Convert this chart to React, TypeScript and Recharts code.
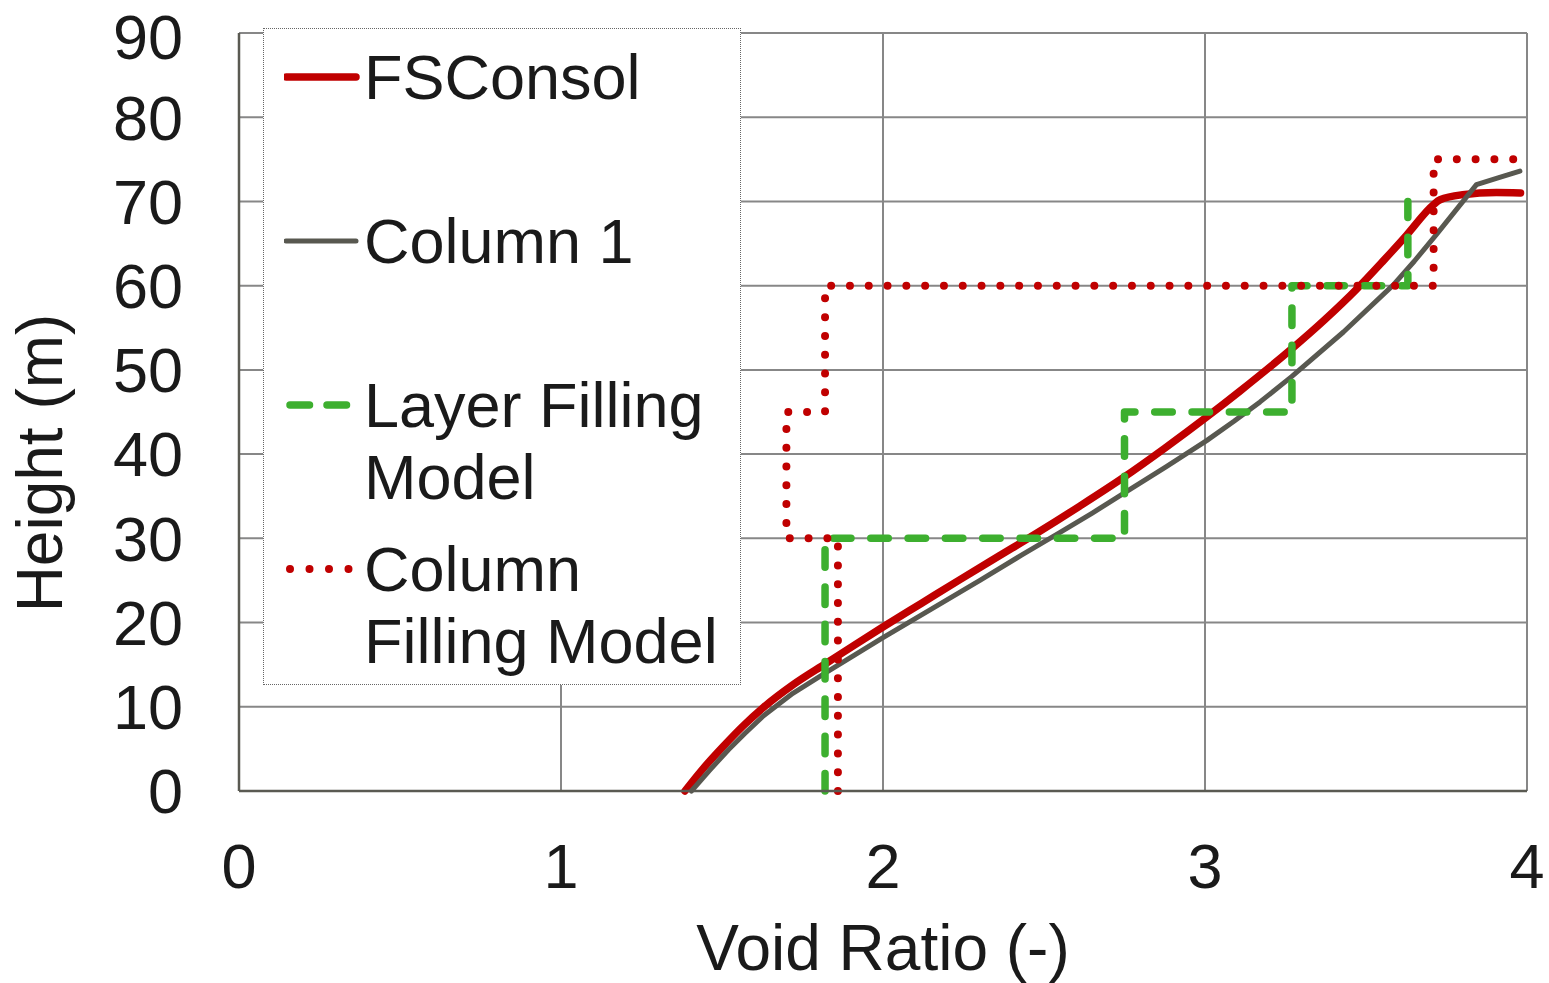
import React from 'react'
import {
	CartesianGrid,
	Legend,
	Line,
	LineChart,
	XAxis,
	YAxis,
} from 'recharts'

// values (void ratio e, height h in m)
const fsconsolE = [
	1.385, 1.44, 1.504, 1.565, 1.628, 1.72, 1.825, 1.91, 2.001, 2.12, 2.239, 2.36,
	2.477, 2.61, 2.746, 2.875, 3.005, 3.109, 3.269, 3.37, 3.471, 3.55, 3.626,
	3.709, 3.73, 3.8, 3.905, 3.98,
]
const fsconsolH = [
	0, 2.6, 5.3, 7.7, 9.9, 12.6, 15.2, 17.3, 19.5, 22.3, 25.1, 27.9, 30.6, 33.8,
	37.2, 40.7, 44.4, 47.5, 52.5, 55.9, 59.6, 62.8, 66.0, 69.6, 70.2, 70.8, 71.05,
	71.0,
]

const column1E = [
	1.405, 1.46, 1.52, 1.57, 1.628, 1.72, 1.825, 1.91, 2.0, 2.15, 2.301, 2.43,
	2.55, 2.65, 2.746, 2.88, 3.005, 3.09, 3.171, 3.269, 3.43, 3.585, 3.65, 3.719,
	3.78, 3.843, 3.91, 3.978,
]
const column1H = [
	0, 2.4, 4.9, 6.8, 8.9, 11.6, 14.1, 16.1, 18.2, 21.6, 25.0, 28.0, 30.7, 33.0,
	35.3, 38.5, 41.6, 43.9, 46.2, 49.2, 54.5, 60.1, 62.9, 66.1, 69.0, 72.0, 72.8,
	73.6,
]

const layerE = [1.82, 1.82, 2.75, 2.75, 3.27, 3.27, 3.63, 3.63]
const layerH = [0, 30, 30, 45, 45, 60, 60, 70]

const columnFillE = [1.86, 1.86, 1.7, 1.7, 1.82, 1.82, 3.71, 3.71, 4.0]
const columnFillH = [0, 30, 30, 45, 45, 60, 60, 75, 75]

const xTicks = [0, 1, 2, 3, 4]
const yTicks = [0, 10, 20, 30, 40, 50, 60, 70, 80, 90]

const toPoints = (e: number[], h: number[]) => e.map((v, i) => ({ e: v, h: h[i] }))

const FONT = '"Liberation Sans", Arial, sans-serif'
const TEXT = '#1a1a1a'

const series = [
	{
		name: 'FSConsol',
		data: toPoints(fsconsolE, fsconsolH),
		color: '#c00000',
		width: 7.5,
		dash: undefined as string | undefined,
		legendDash: undefined as string | undefined,
		type: 'monotone' as const,
	},
	{
		name: 'Column 1',
		data: toPoints(column1E, column1H),
		color: '#585850',
		width: 5,
		dash: undefined,
		legendDash: undefined,
		type: 'linear' as const,
	},
	{
		name: 'Layer Filling Model',
		data: toPoints(layerE, layerH),
		color: '#3daf2f',
		width: 7.5,
		dash: '17.5 19.8',
		legendDash: '19.5 17.5',
		type: 'linear' as const,
	},
	{
		name: 'Column Filling Model',
		data: toPoints(columnFillE, columnFillH),
		color: '#c00000',
		width: 8,
		dash: '0 18.8',
		legendDash: '0 19.5',
		type: 'linear' as const,
	},
]

function LegendBox() {
	return (
		<div
			style={{
				width: 476,
				height: 655,
				border: '1px dotted #666',
				background: '#fff',
				position: 'relative',
				fontFamily: FONT,
				fontSize: 63,
				color: TEXT,
			}}
		>
			{series.map((s, i) => (
				<div
					key={s.name}
					style={{
						position: 'absolute',
						left: 20,
						top: 12 + i * 164,
						display: 'flex',
						alignItems: 'flex-start',
					}}
				>
					<svg width={80} height={72} style={{ flex: 'none' }}>
						<line
							x1={s.legendDash ? 6 : 2}
							x2={s.legendDash ? 68 : 72}
							y1={36}
							y2={36}
							stroke={s.color}
							strokeWidth={s.width}
							strokeDasharray={s.legendDash}
							strokeLinecap='round'
						/>
					</svg>
					<div style={{ width: 365, lineHeight: '72px', textAlign: 'left' }}>
						{s.name}
					</div>
				</div>
			))}
		</div>
	)
}

export default function App() {
	return (
		<div style={{ position: 'absolute', left: 0, top: 0 }}>
			<LineChart
				width={1549}
				height={983}
				margin={{ top: 33, right: 22, bottom: 0, left: 0 }}
				style={{ fontFamily: FONT }}
			>
				<CartesianGrid stroke='#878787' strokeWidth={2} />
				<XAxis
					type='number'
					dataKey='e'
					domain={[0, 4]}
					ticks={xTicks}
					height={192}
					tickLine={false}
					tickSize={0}
					tickMargin={52}
					axisLine={{ stroke: '#5a5a52', strokeWidth: 2.5 }}
					tick={{ fill: TEXT, fontSize: 63 }}
					label={{
						content: () => (
							<text
								x={883}
								y={970}
								textAnchor='middle'
								fill={TEXT}
								fontSize={64}
								fontFamily={FONT}
							>
								Void Ratio (-)
							</text>
						),
					}}
				/>
				<YAxis
					type='number'
					dataKey='h'
					domain={[0, 90]}
					ticks={yTicks}
					width={239}
					tickLine={false}
					tickSize={0}
					tickMargin={56}
					axisLine={{ stroke: '#5a5a52', strokeWidth: 2.5 }}
					tick={{ fill: TEXT, fontSize: 63 }}
					label={{
						content: () => (
							<text
								x={40}
								y={463}
								transform='rotate(-90 40 463)'
								textAnchor='middle'
								dominantBaseline='central'
								fill={TEXT}
								fontSize={64}
								fontFamily={FONT}
							>
								Height (m)
							</text>
						),
					}}
				/>
				{series.map((s) => (
					<Line
						key={s.name}
						name={s.name}
						data={s.data}
						dataKey='h'
						type={s.type}
						stroke={s.color}
						strokeWidth={s.width}
						strokeDasharray={s.dash}
						strokeLinecap='round'
						strokeLinejoin='round'
						dot={false}
						activeDot={false}
						isAnimationActive={false}
					/>
				))}
				<Legend
					layout='horizontal'
					verticalAlign='middle'
					align='center'
					content={() => <LegendBox />}
					wrapperStyle={{ left: 263, top: 28, width: 478, height: 657 }}
				/>
			</LineChart>
		</div>
	)
}
